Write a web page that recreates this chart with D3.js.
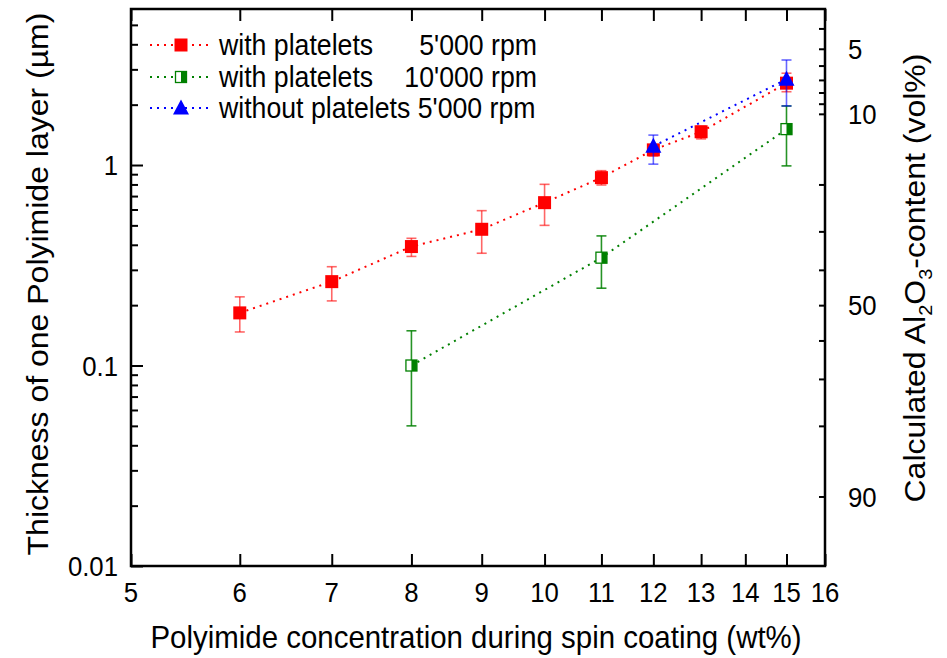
<!DOCTYPE html>
<html>
<head>
<meta charset="utf-8">
<script src="https://cdn.jsdelivr.net/npm/d3@7"></script>
<style>
html,body{margin:0;padding:0;background:#fff;}
svg{display:block;}
text{font-family:"Liberation Sans",Arial,sans-serif;fill:#000;}
</style>
</head>
<body>
<svg id="chart" width="947" height="658"></svg>
<script>
// ---- data ----
const xTicks = [5,6,7,8,9,10,11,12,13,14,15,16];
const yMajorTicks = [0.01,0.1,1];
const yMinorTicks = [0.02,0.03,0.04,0.05,0.06,0.07,0.08,0.09,0.2,0.3,0.4,0.5,0.6,0.7,0.8,0.9,2,3,4,5];
const rightTicks = [4,5,6,7,8,9,10,20,30,40,50,60,70,80,90];
const rightLabels = [5,10,50,90];
const volFactor = 0.2; // thickness (µm) at which Al2O3 content is 50 vol%

const conc5k = [6,7,8,9,10,11,12,13,15];
const thick5k = [0.183,0.262,0.392,0.478,0.649,0.865,1.19,1.465,2.56];
const low5k  = [0.147,0.210,0.350,0.363,0.500,0.795,1.11,1.35,2.32];
const high5k = [0.220,0.311,0.431,0.592,0.801,0.937,1.26,1.56,2.87];

const conc10k = [8,11,15];
const thick10k = [0.100,0.345,1.51];
const low10k  = [0.050,0.243,0.99];
const high10k = [0.149,0.443,1.97];

const concNo = [12,15];
const thickNo = [1.24,2.68];
const lowNo  = [1.01,1.97];
const highNo = [1.41,3.34];

const legendLabels = ["with platelets","with platelets","without platelets 5'000 rpm"];
const legendRight = ["5'000 rpm","10'000 rpm",""];

// ---- layout ----
const L = 131, R = 825, T = 9, B = 566;
const SX = 0.92; // horizontal text compression
const svg = d3.select("#chart");
const x = d3.scaleLog().domain([5,16]).range([L,R]);
const y = d3.scaleLog().domain([0.01,6]).range([B,T]);
const volToThick = v => volFactor*(100-v)/v;

const RED="#ff0000", GREEN="#008000", BLUE="#0000ff";

function label(g, px, py, txt, anchor, size){
  return g.append("text")
    .attr("transform",`translate(${px},${py}) scale(${SX},1)`)
    .attr("text-anchor",anchor).attr("dy","0.36em")
    .attr("font-size",size).text(txt);
}

// ---- axes ----
const ax = svg.append("g");
const clean = g=>{g.select(".domain").remove();g.selectAll("line").attr("stroke-width",2);g.selectAll("text").remove();};
ax.append("g").attr("transform",`translate(0,${B})`)
  .call(d3.axisBottom(x).tickValues(xTicks).tickSize(-12)).call(clean);
ax.append("g").attr("transform",`translate(0,${T})`)
  .call(d3.axisTop(x).tickValues(xTicks).tickSize(-12)).call(clean);
ax.append("g").attr("transform",`translate(${L},0)`)
  .call(d3.axisLeft(y).tickValues(yMajorTicks).tickSize(-12)).call(clean);
ax.append("g").attr("transform",`translate(${L},0)`)
  .call(d3.axisLeft(y).tickValues(yMinorTicks).tickSize(-7)).call(clean);
ax.append("g").attr("transform",`translate(${R},0)`)
  .call(d3.axisRight(y).tickValues(rightTicks.map(volToThick)).tickSize(-6)).call(clean);

xTicks.forEach(t=>label(ax, x(t), 592, String(t), "middle", 28));
yMajorTicks.forEach(t=>label(ax, L-13, y(t), String(t), "end", 28));
rightLabels.forEach(v=>label(ax, R+23, y(volToThick(v)), String(v), "start", 28));

// frame
svg.append("rect").attr("x",L).attr("y",T).attr("width",R-L).attr("height",B-T)
  .attr("fill","none").attr("stroke","#000").attr("stroke-width",2.5);

// ---- titles ----
svg.append("text").attr("transform",`translate(476,648) scale(0.95,1)`).attr("text-anchor","middle")
  .attr("font-size",31).text("Polyimide concentration during spin coating (wt%)");
svg.append("text").attr("transform",`translate(48,284) rotate(-90) scale(1,${SX})`).attr("text-anchor","middle")
  .attr("font-size",32).text("Thickness of one Polyimide layer (\u00b5m)");
const rt = svg.append("text").attr("transform",`translate(925,278) rotate(-90) scale(1,${SX})`).attr("text-anchor","middle")
  .attr("font-size",32);
rt.append("tspan").text("Calculated Al");
rt.append("tspan").attr("font-size",20).attr("dy",8).text("2");
rt.append("tspan").attr("dy",-8).text("O");
rt.append("tspan").attr("font-size",20).attr("dy",8).text("3");
rt.append("tspan").attr("dy",-8).text("-content (vol%)");

// ---- series ----
const plot = svg.append("g");
function series(cx, cy, lo, hi, color, errOpacity, marker){
  const pts = cx.map((c,i)=>({c, v:cy[i], lo:lo[i], hi:hi[i]}));
  plot.append("path").datum(pts)
    .attr("d", d3.line().x(d=>x(d.c)).y(d=>y(d.v)))
    .attr("fill","none").attr("stroke",color).attr("stroke-width",2)
    .attr("stroke-dasharray","2,5");
  const eg = plot.append("g").attr("stroke",color).attr("stroke-opacity",errOpacity).attr("stroke-width",1.6);
  eg.selectAll("line.v").data(pts).join("line")
    .attr("x1",d=>x(d.c)).attr("x2",d=>x(d.c)).attr("y1",d=>y(d.lo)).attr("y2",d=>y(d.hi));
  eg.selectAll("line.hi").data(pts).join("line")
    .attr("x1",d=>x(d.c)-5).attr("x2",d=>x(d.c)+5).attr("y1",d=>y(d.hi)).attr("y2",d=>y(d.hi));
  eg.selectAll("line.lo").data(pts).join("line")
    .attr("x1",d=>x(d.c)-5).attr("x2",d=>x(d.c)+5).attr("y1",d=>y(d.lo)).attr("y2",d=>y(d.lo));
  const mg = plot.append("g");
  pts.forEach(d=>marker(mg, x(d.c), y(d.v)));
}
function sqFilled(g,cx,cy){
  g.append("rect").attr("x",cx-6.5).attr("y",cy-6.5).attr("width",13).attr("height",13).attr("fill",RED);
}
function sqHalf(g,cx,cy){
  g.append("rect").attr("x",cx-5.5).attr("y",cy-5.5).attr("width",11).attr("height",11)
    .attr("fill","#fff").attr("stroke",GREEN).attr("stroke-width",1.3);
  g.append("rect").attr("x",cx).attr("y",cy-5.5).attr("width",5.5).attr("height",11).attr("fill",GREEN);
}
function tri(g,cx,cy){
  g.append("path").attr("d",`M${cx},${cy-8.5}L${cx+8},${cy+6.5}L${cx-8},${cy+6.5}Z`).attr("fill",BLUE);
}
series(conc5k,thick5k,low5k,high5k,RED,0.6,sqFilled);
series(conc10k,thick10k,low10k,high10k,GREEN,0.85,sqHalf);
series(concNo,thickNo,lowNo,highNo,BLUE,0.6,tri);

// ---- legend ----
const legY = [45,77,108];
const legCol = [RED,GREEN,BLUE];
const legMark = [sqFilled,sqHalf,tri];
const lg = svg.append("g");
legY.forEach((ly,i)=>{
  lg.append("line").attr("x1",150).attr("x2",212).attr("y1",ly).attr("y2",ly)
    .attr("stroke",legCol[i]).attr("stroke-width",2).attr("stroke-dasharray","2,5");
  legMark[i](lg,181,ly);
  label(lg, 219, ly, legendLabels[i], "start", 29);
  if(legendRight[i]) label(lg, 537, ly, legendRight[i], "end", 29);
});
</script>
</body>
</html>
